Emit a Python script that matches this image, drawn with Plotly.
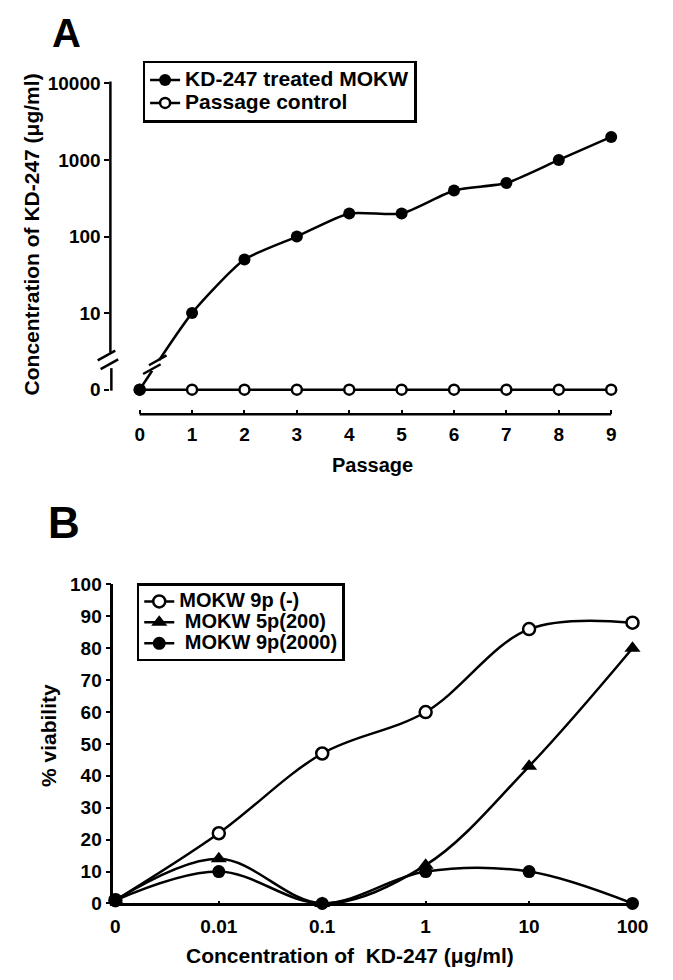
import plotly.graph_objects as go

W, H = 673, 980

# ---- Panel A: KD-247 concentration over passages ----
passage = [0, 1, 2, 3, 4, 5, 6, 7, 8, 9]
kd247_treated = [0, 10, 50, 100, 200, 200, 400, 500, 1000, 2000]
passage_control = [0, 0, 0, 0, 0, 0, 0, 0, 0, 0]
a_ytick_values = [0, 10, 100, 1000, 10000]

# ---- Panel B: viability vs KD-247 concentration ----
conc_labels = ["0", "0.01", "0.1", "1", "10", "100"]
via_9p_none = [1, 22, 47, 60, 86, 88]
via_5p_200 = [1, 14, 0, 12, 43, 80]
via_9p_2000 = [1, 10, 0, 10, 10, 0]
b_ytick_values = [0, 10, 20, 30, 40, 50, 60, 70, 80, 90, 100]

FONT = "Liberation Sans, Arial, Helvetica, sans-serif"
ZERO_POS = 1  # log-axis position used for "0", below the axis break


def on_log(v):
    return v if v > 0 else ZERO_POS


def px(x):
    return x / W


def py(y):
    return 1 - y / H


def big(text, size):
    return f'<span style="font-size:{size}px">{text}</span>'


fig = go.Figure()

line_a = dict(color="black", width=2.5, shape="spline", smoothing=0.6)
fig.add_trace(go.Scatter(
    x=passage, y=[on_log(v) for v in passage_control], mode="lines+markers",
    name=big("Passage control", 21), line=line_a,
    marker=dict(symbol="circle", size=10, color="white", line=dict(color="black", width=2.5)),
    xaxis="x", yaxis="y", legend="legend", cliponaxis=False, legendrank=2))
fig.add_trace(go.Scatter(
    x=passage, y=[on_log(v) for v in kd247_treated], mode="lines+markers",
    name=big("KD-247 treated MOKW", 21), line=line_a,
    marker=dict(symbol="circle", size=12, color="black"),
    xaxis="x", yaxis="y", legend="legend", cliponaxis=False, legendrank=1))

line_b = dict(color="black", width=2.5, shape="spline", smoothing=1)
fig.add_trace(go.Scatter(
    x=conc_labels, y=via_9p_none, mode="lines+markers", name=big("MOKW 9p (-)", 20),
    line=line_b,
    marker=dict(symbol="circle", size=12, color="white", line=dict(color="black", width=2.5)),
    xaxis="x2", yaxis="y2", legend="legend2", cliponaxis=False))
fig.add_trace(go.Scatter(
    x=conc_labels, y=via_5p_200, mode="lines+markers", name=big(" MOKW 5p(200)", 20),
    line=line_b, marker=dict(symbol="triangle-up", size=14, color="black"),
    xaxis="x2", yaxis="y2", legend="legend2", cliponaxis=False))
fig.add_trace(go.Scatter(
    x=conc_labels, y=via_9p_2000, mode="lines+markers", name=big(" MOKW 9p(2000)", 20),
    line=line_b, marker=dict(symbol="circle", size=13, color="black"),
    xaxis="x2", yaxis="y2", legend="legend2", cliponaxis=False))

tickfont = dict(family=FONT, size=19, color="black", weight="bold")
axis_common = dict(showgrid=False, zeroline=False, tickcolor="black", tickwidth=2,
                   tickfont=tickfont, linecolor="black")

# Panel A axes
xa_left, xa_right = 110, 650
x_unit = (623 - 140) / 9
fig.update_layout(
    xaxis=dict(domain=[px(xa_left), px(xa_right)],
               range=[-(140 - xa_left) / x_unit, 9 + (xa_right - 623) / x_unit],
               anchor="free", position=py(413), showline=False,
               tickvals=passage, ticks="inside", ticklen=4, ticklabelstandoff=7,
               **axis_common),
    yaxis=dict(domain=[py(390), py(73)], type="log", range=[-0.0256, 4.0256],
               anchor="x", showline=False,
               tickvals=[on_log(v) for v in a_ytick_values],
               ticktext=[str(v) for v in a_ytick_values],
               ticks="outside", ticklen=5, **axis_common),
    xaxis2=dict(domain=[px(113), px(648)], type="category",
                categoryorder="array", categoryarray=conc_labels,
                range=[-0.02, 5.03], anchor="y2", showline=True, linewidth=2.5,
                ticks="inside", ticklen=3, ticklabelstandoff=4, **axis_common),
    yaxis2=dict(domain=[py(913), py(587)], range=[0, 100], anchor="x2",
                showline=True, linewidth=2.5, tickvals=b_ytick_values,
                ticks="outside", ticklen=5, **axis_common),
)

# Axis lines and break marks for panel A
shapes = []
blk = dict(color="black", width=2.5)
shapes.append(dict(type="line", xref="paper", yref="paper",
                   x0=px(110), x1=px(110), y0=py(73), y1=py(350), line=blk))
shapes.append(dict(type="line", xref="paper", yref="paper",
                   x0=px(111), x1=px(111), y0=py(366), y1=py(389), line=blk))
for (x0, y0, x1, y1) in [(97, 358, 115, 348), (100, 367, 118, 357)]:
    shapes.append(dict(type="line", xref="paper", yref="paper",
                       x0=px(x0), y0=py(y0), x1=px(x1), y1=py(y1), line=blk))
# gap in the treated line
shapes.append(dict(type="line", xref="paper", yref="paper",
                   x0=px(152.5), y0=py(368.5), x1=px(159.5), y1=py(357.5),
                   line=dict(color="white", width=7)))
for (cx, cy) in [(152.5, 367), (158.5, 358)]:
    shapes.append(dict(type="line", xref="paper", yref="paper",
                       x0=px(cx - 9), y0=py(cy + 5), x1=px(cx + 9), y1=py(cy - 5), line=blk))
# bottom axis line of panel A
shapes.append(dict(type="line", xref="x", yref="paper", x0=passage[0], x1=passage[-1],
                   y0=py(413), y1=py(413), line=blk))

ann_font = dict(family=FONT, color="black", weight="bold")
annotations = [
    dict(text="A", x=px(65), y=py(24), font=dict(size=40, **ann_font)),
    dict(text="B", x=px(62), y=py(524), font=dict(size=44, **ann_font)),
    dict(text="Concentration of KD-247 (\u03bcg/ml)", x=px(29), y=py(229), textangle=-90,
         font=dict(size=21, **ann_font)),
    dict(text="Passage", x=px(378), y=py(465), font=dict(size=20, **ann_font)),
    dict(text="Concentration of  KD-247 (\u03bcg/ml)", x=px(355), y=py(966),
         font=dict(size=21, **ann_font)),
    dict(text="% viability", x=px(46), y=py(741), textangle=-90,
         font=dict(size=21, **ann_font)),
]
for a in annotations:
    a.update(xref="paper", yref="paper", showarrow=False, xanchor="center", yanchor="middle")

fig.update_layout(
    width=W, height=H, autosize=False,
    margin=dict(l=0, r=0, t=0, b=0),
    paper_bgcolor="white", plot_bgcolor="white",
    font=dict(family=FONT, color="black", weight="bold"),
    shapes=shapes, annotations=annotations,
    legend=dict(x=px(143), y=py(52), xanchor="left", yanchor="top",
                bgcolor="white", bordercolor="black", borderwidth=2.5,
                font=dict(family=FONT, size=15.4, color="black", weight="bold"),
                itemwidth=30, traceorder="normal"),
    legend2=dict(x=px(137), y=py(586), xanchor="left", yanchor="top",
                 bgcolor="white", bordercolor="black", borderwidth=2.5,
                 font=dict(family=FONT, size=13.8, color="black", weight="bold"),
                 itemwidth=30, traceorder="normal"),
    showlegend=True,
)

fig.write_html("out.html")
